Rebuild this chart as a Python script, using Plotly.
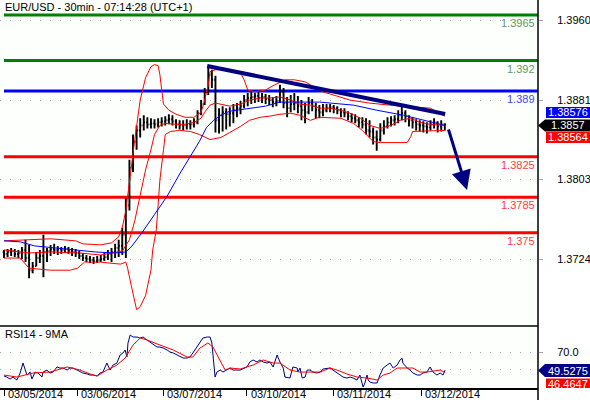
import plotly.graph_objects as go

# ---------------- data ----------------
title_text = "EUR/USD - 30min - 07:14:28 (UTC+1)"
rsi_title = "RSI14 - 9MA"

# hourly OHLC (index 0 = first bar of 03/05/2014)
opens = [
    1.3731, 1.3729, 1.3731, 1.3732, 1.3729, 1.3730, 1.3733, 1.3725, 1.3713, 1.3717,
    1.3725, 1.3727, 1.3731, 1.3732, 1.3734, 1.3733, 1.3734, 1.3733, 1.3734, 1.3732,
    1.3731, 1.3730, 1.3727, 1.3725, 1.3724, 1.3723, 1.3722, 1.3723, 1.3724, 1.3726,
    1.3729, 1.3731, 1.3735, 1.3737, 1.3748, 1.3777, 1.3814, 1.3840, 1.3851, 1.3856,
    1.3859, 1.3857, 1.3858, 1.3857, 1.3859, 1.3860, 1.3861, 1.3862, 1.3860, 1.3857,
    1.3856, 1.3856, 1.3857, 1.3857, 1.3859, 1.3868, 1.3877, 1.3889, 1.3906, 1.3901,
    1.3861, 1.3866, 1.3869, 1.3867, 1.3868, 1.3871, 1.3873, 1.3875, 1.3881, 1.3883,
    1.3884, 1.3885, 1.3883, 1.3884, 1.3882, 1.3881, 1.3879, 1.3880, 1.3889, 1.3878,
    1.3873, 1.3877, 1.3878, 1.3875, 1.3871, 1.3869, 1.3878, 1.3875, 1.3871, 1.3869,
    1.3871, 1.3873, 1.3874, 1.3873, 1.3871, 1.3869, 1.3868, 1.3865, 1.3863, 1.3861,
    1.3859, 1.3857, 1.3851, 1.3850, 1.3844, 1.3842, 1.3851, 1.3855, 1.3859, 1.3861,
    1.3862, 1.3866, 1.3868, 1.3865, 1.3861, 1.3859, 1.3857, 1.3856, 1.3855, 1.3854,
    1.3857, 1.3859, 1.3855, 1.3857]
highs = [
    1.3733, 1.3734, 1.3735, 1.3734, 1.3733, 1.3736, 1.3743, 1.3738, 1.3721, 1.3731,
    1.3733, 1.3748, 1.3735, 1.3738, 1.3739, 1.3737, 1.3736, 1.3737, 1.3736, 1.3735,
    1.3734, 1.3732, 1.3730, 1.3728, 1.3727, 1.3726, 1.3727, 1.3728, 1.3730, 1.3733,
    1.3735, 1.3739, 1.3743, 1.3755, 1.3784, 1.3822, 1.3847, 1.3856, 1.3863, 1.3866,
    1.3864, 1.3863, 1.3862, 1.3863, 1.3864, 1.3865, 1.3867, 1.3866, 1.3862, 1.3861,
    1.3861, 1.3862, 1.3861, 1.3863, 1.3871, 1.3881, 1.3893, 1.3914, 1.3911, 1.3905,
    1.3873, 1.3875, 1.3873, 1.3874, 1.3877, 1.3878, 1.3880, 1.3886, 1.3888, 1.3889,
    1.3888, 1.3889, 1.3888, 1.3887, 1.3886, 1.3884, 1.3885, 1.3896, 1.3893, 1.3884,
    1.3886, 1.3888, 1.3885, 1.3881, 1.3878, 1.3884, 1.3882, 1.3878, 1.3876, 1.3877,
    1.3877, 1.3877, 1.3876, 1.3875, 1.3873, 1.3873, 1.3870, 1.3868, 1.3867, 1.3864,
    1.3864, 1.3863, 1.3861, 1.3854, 1.3851, 1.3858, 1.3861, 1.3864, 1.3865, 1.3866,
    1.3871, 1.3875, 1.3871, 1.3866, 1.3864, 1.3862, 1.3861, 1.3860, 1.3859, 1.3861,
    1.3863, 1.3860, 1.3861, 1.3858]
lows = [
    1.3725, 1.3726, 1.3727, 1.3726, 1.3725, 1.3724, 1.3721, 1.3705, 1.3710, 1.3717,
    1.3720, 1.3706, 1.3721, 1.3727, 1.3729, 1.3728, 1.3729, 1.3730, 1.3729, 1.3727,
    1.3726, 1.3724, 1.3722, 1.3721, 1.3720, 1.3719, 1.3720, 1.3721, 1.3722, 1.3723,
    1.3721, 1.3725, 1.3726, 1.3728, 1.3725, 1.3772, 1.3810, 1.3832, 1.3844, 1.3851,
    1.3853, 1.3853, 1.3853, 1.3854, 1.3855, 1.3856, 1.3857, 1.3856, 1.3853, 1.3852,
    1.3851, 1.3852, 1.3852, 1.3854, 1.3857, 1.3866, 1.3876, 1.3886, 1.3893, 1.3849,
    1.3848, 1.3850, 1.3852, 1.3855, 1.3858, 1.3864, 1.3867, 1.3873, 1.3875, 1.3877,
    1.3878, 1.3879, 1.3878, 1.3877, 1.3876, 1.3874, 1.3875, 1.3878, 1.3873, 1.3864,
    1.3869, 1.3871, 1.3868, 1.3861, 1.3858, 1.3867, 1.3870, 1.3863, 1.3863, 1.3865,
    1.3869, 1.3869, 1.3868, 1.3867, 1.3864, 1.3864, 1.3861, 1.3859, 1.3858, 1.3854,
    1.3853, 1.3847, 1.3844, 1.3837, 1.3831, 1.3840, 1.3847, 1.3853, 1.3855, 1.3856,
    1.3858, 1.3861, 1.3859, 1.3855, 1.3853, 1.3851, 1.3850, 1.3849, 1.3848, 1.3851,
    1.3853, 1.3849, 1.3850, 1.3851]
closes = [
    1.3729, 1.3731, 1.3732, 1.3729, 1.3730, 1.3733, 1.3725, 1.3713, 1.3717, 1.3725,
    1.3727, 1.3731, 1.3732, 1.3734, 1.3733, 1.3734, 1.3733, 1.3734, 1.3732, 1.3731,
    1.3730, 1.3727, 1.3725, 1.3724, 1.3723, 1.3722, 1.3723, 1.3724, 1.3726, 1.3729,
    1.3731, 1.3735, 1.3737, 1.3748, 1.3777, 1.3814, 1.3840, 1.3851, 1.3856, 1.3859,
    1.3857, 1.3858, 1.3857, 1.3859, 1.3860, 1.3861, 1.3862, 1.3860, 1.3857, 1.3856,
    1.3856, 1.3857, 1.3857, 1.3859, 1.3868, 1.3877, 1.3889, 1.3906, 1.3901, 1.3861,
    1.3866, 1.3869, 1.3867, 1.3868, 1.3871, 1.3873, 1.3875, 1.3881, 1.3883, 1.3884,
    1.3885, 1.3883, 1.3884, 1.3882, 1.3881, 1.3879, 1.3880, 1.3889, 1.3878, 1.3873,
    1.3877, 1.3878, 1.3875, 1.3871, 1.3869, 1.3878, 1.3875, 1.3871, 1.3869, 1.3871,
    1.3873, 1.3874, 1.3873, 1.3871, 1.3869, 1.3868, 1.3865, 1.3863, 1.3861, 1.3859,
    1.3857, 1.3851, 1.3850, 1.3844, 1.3842, 1.3851, 1.3855, 1.3859, 1.3861, 1.3862,
    1.3866, 1.3868, 1.3865, 1.3861, 1.3859, 1.3857, 1.3856, 1.3855, 1.3854, 1.3857,
    1.3859, 1.3855, 1.3857, 1.3857]

# Bollinger bands (red) and long moving average (blue)
upper_x = [0, 6, 13, 20, 22, 27, 30, 32, 33, 34, 35, 36.5, 38, 39.5, 41, 42, 43, 43.5, 44, 44.5,
           46, 48, 50.5, 53, 55, 56, 57, 57.5, 59, 62, 64.5, 66, 67, 68, 70, 73, 75.5, 78.5, 81, 84,
           87, 89, 91, 96.5, 102, 107, 110.5, 119, 121.5, 123]
upper_y = [1.3742, 1.3743, 1.3744, 1.3742, 1.3739, 1.3738, 1.3740, 1.3746, 1.3755, 1.3772,
           1.3802, 1.3842, 1.3881, 1.3903, 1.3914, 1.3916, 1.3915, 1.3906, 1.3891, 1.3877,
           1.3871, 1.3867, 1.3864, 1.3864, 1.3869, 1.3881, 1.3896, 1.3909, 1.3911, 1.3911,
           1.3910, 1.3908, 1.3901, 1.3891, 1.3889, 1.3891, 1.3896, 1.3901, 1.3901, 1.3899,
           1.3893, 1.3889, 1.3887, 1.3881, 1.3878, 1.3876, 1.3875, 1.3873, 1.3868, 1.3865]
mid_x = [0, 7, 13, 21, 27, 30.5, 33, 35, 36.5, 38, 39.5, 41, 42, 43.5, 45, 48, 50.5, 53, 55, 56,
         57.5, 59, 60.5, 63, 66, 68.5, 71.5, 74, 77, 80, 82.5, 85.5, 88, 91, 94, 96.5, 99.5, 102,
         105, 108, 110.5, 113.5, 116, 119, 123]
mid_y = [1.3733, 1.3730, 1.3731, 1.3730, 1.3728, 1.3730, 1.3732, 1.3743, 1.3762, 1.3787,
         1.3812, 1.3832, 1.3847, 1.3856, 1.3858, 1.3857, 1.3857, 1.3859, 1.3863, 1.3869,
         1.3876, 1.3878, 1.3877, 1.3875, 1.3877, 1.3881, 1.3883, 1.3883, 1.3884, 1.3881,
         1.3877, 1.3876, 1.3873, 1.3873, 1.3871, 1.3868, 1.3863, 1.3856, 1.3853, 1.3856,
         1.3861, 1.3863, 1.3859, 1.3857, 1.3856]
lower_x = [0, 4.5, 7, 13, 18.5, 20.5, 22.5, 27, 29.5, 32.5, 34, 34.5, 35.5, 36.5, 37, 38, 39.5,
           41, 41.5, 42.5, 43, 43.5, 44.5, 45, 46.5, 49, 52, 54.5, 57.5, 60.5, 63, 66, 68.5, 71.5,
           74, 77, 80, 82.5, 85.5, 88, 94, 97.5, 100, 103, 105, 112.5, 113.5, 114, 123]
lower_y = [1.3725, 1.3725, 1.3715, 1.3713, 1.3713, 1.3715, 1.3721, 1.3721, 1.3720, 1.3719,
           1.3721, 1.3715, 1.3698, 1.3683, 1.3674, 1.3677, 1.3688, 1.3713, 1.3733, 1.3753,
           1.3777, 1.3802, 1.3832, 1.3847, 1.3850, 1.3851, 1.3850, 1.3847, 1.3842, 1.3844,
           1.3849, 1.3855, 1.3861, 1.3864, 1.3865, 1.3867, 1.3868, 1.3866, 1.3861, 1.3864,
           1.3863, 1.3858, 1.3851, 1.3840, 1.3839, 1.3839, 1.3845, 1.3850, 1.3851]
ma_x = [0, 4.5, 8.5, 14, 20, 25.5, 31, 34, 35.5, 38.5, 42, 45.5, 49, 52, 54.5, 56.5, 58.5, 60.5,
        63, 67, 73, 77, 81, 88, 97.5, 104, 111.5, 119, 123]
ma_y = [1.3742, 1.3741, 1.3737, 1.3735, 1.3733, 1.3731, 1.3730, 1.3731, 1.3736, 1.3750,
        1.3768, 1.3786, 1.3808, 1.3825, 1.3840, 1.3854, 1.3861, 1.3866, 1.3870, 1.3872,
        1.3875, 1.3879, 1.3879, 1.3879, 1.3876, 1.3871, 1.3866, 1.3859, 1.3856]

# RSI14 and its 9-period MA
rsi_x = [0, 0.8, 1.7, 2.5, 3.6, 4.5, 5.3, 6.4, 7.3, 7.8,
         8.7, 9.5, 10.6, 10.9, 12.0, 12.8, 13.7, 14.8, 15.6, 16.5,
         17.6, 18.4, 19.3, 20.4, 21.2, 22.0, 23.2, 24.0, 24.8, 26.0,
         26.8, 27.6, 28.7, 29.6, 30.4, 31.5, 32.4, 33.2, 33.8, 34.3,
         34.6, 35.2, 36.0, 37.1, 37.9, 38.8, 39.9, 40.7, 41.6, 42.7,
         43.5, 44.4, 45.5, 46.3, 47.2, 48.3, 49.1, 50.0, 51.1, 51.9,
         52.7, 53.9, 54.7, 55.5, 56.7, 57.5, 58.0, 58.3, 58.9, 59.4,
         60.3, 61.1, 62.2, 63.1, 63.9, 65.0, 65.9, 67.8, 68.6, 69.5,
         70.6, 71.4, 72.3, 73.4, 74.2, 75.1, 76.2, 77.0, 77.9, 78.4,
         79.8, 80.6, 81.8, 82.0, 82.6, 83.2, 84.0, 84.6, 85.4, 86.2,
         87.3, 88.2, 89.0, 91.0, 92.9, 93.8, 94.6, 95.7, 96.6, 97.4,
         98.5, 99.3, 99.9, 100.2, 100.7, 101.3, 101.6, 102.1, 103.0, 104.1,
         104.9, 105.8, 106.9, 107.7, 108.6, 109.7, 110.5, 111.1, 111.3, 112.5,
         113.3, 114.1, 115.3, 116.1, 116.9, 118.0, 118.9, 119.7, 120.8, 121.7,
         122.5, 123.1]
rsi_y = [42.6, 41.4, 39.1, 41.4, 38.0, 46.0, 57.4, 43.7, 47.1, 39.1,
         47.1, 46.0, 41.4, 47.1, 49.4, 46.0, 47.1, 52.9, 51.7, 51.7,
         49.4, 51.7, 51.7, 49.4, 47.1, 46.0, 44.9, 43.7, 43.7, 42.6,
         46.0, 47.1, 57.4, 49.4, 55.1, 57.4, 66.6, 68.9, 72.3, 64.3,
         80.3, 89.4, 87.1, 87.1, 86.0, 87.1, 83.7, 81.4, 78.0, 75.7,
         75.7, 74.6, 72.3, 70.0, 68.9, 66.6, 64.3, 63.1, 63.1, 64.3,
         68.9, 75.7, 81.4, 86.0, 87.1, 87.1, 80.3, 64.3, 41.4, 47.1,
         49.4, 47.1, 49.4, 51.7, 49.4, 49.4, 49.4, 52.9, 58.6, 60.9,
         58.6, 60.9, 58.6, 57.4, 58.6, 52.9, 66.6, 58.6, 51.7, 41.4,
         40.3, 52.9, 51.7, 47.1, 51.7, 40.3, 41.4, 49.4, 49.4, 47.1,
         46.0, 47.1, 50.6, 51.7, 46.0, 43.7, 41.4, 40.3, 41.4, 40.3,
         38.0, 43.7, 35.7, 30.0, 34.6, 43.7, 38.0, 35.7, 34.6, 34.6,
         43.7, 51.7, 55.1, 57.4, 51.7, 55.1, 60.9, 62.8, 57.4, 51.7,
         49.4, 46.0, 43.7, 43.7, 46.0, 47.1, 52.9, 47.1, 43.7, 46.0,
         43.7, 49.5]
rsima_x = [0, 3.6, 8.1, 12.8, 17.6, 21.2, 24.0, 26.0, 28.7, 31.5,
           33.8, 36.0, 38.0, 39.9, 43.5, 47.2, 51.1, 52.7, 54.7, 56.9,
           58.3, 60.3, 61.7, 63.1, 65.9, 69.5, 72.3, 75.1, 77.0, 79.8,
           82.6, 85.4, 88.2, 91.0, 92.9, 95.7, 98.5, 101.3, 104.1, 105.8,
           107.7, 109.7, 111.3, 114.1, 116.1, 118.0, 121.7, 123.1]
rsima_y = [43.7, 41.4, 46.0, 47.1, 52.9, 49.4, 44.9, 42.6, 49.4, 55.1,
           63.1, 78.0, 86.0, 83.7, 78.0, 72.3, 64.3, 64.3, 74.6, 80.3,
           75.7, 60.9, 49.4, 51.7, 50.6, 55.1, 60.9, 57.4, 57.4, 49.4,
           47.1, 47.1, 47.1, 51.7, 49.4, 44.9, 41.4, 40.3, 38.0, 43.7,
           46.0, 51.7, 51.7, 51.7, 47.1, 47.1, 49.4, 46.5]

# drawn objects (in data units)
trend_x = [56.7, 123.1]
trend_y = [1.39146, 1.38672]
arrow_tail = (123.9, 1.38534)
arrow_tip = (129.2, 1.37922)

levels = [1.3965, 1.392, 1.389, 1.3825, 1.3785, 1.375]
level_labels = ["1.3965", "1.392", "1.389", "1.3825", "1.3785", "1.375"]

price_ticks = [1.3724, 1.3803, 1.3881, 1.3960]
price_tick_labels = ["1.3724", "1.3803", "1.3881", "1.3960"]
rsi_ticks = [50, 70]
rsi_tick_labels = ["", "70.0"]

date_ticks = [0, 20.5, 44.5, 67.8, 91.8, 116.4]
date_labels = ["03/05/2014", "03/06/2014", "03/07/2014", "03/10/2014", "03/11/2014", "03/12/2014"]

tag_texts = ["1.38576", "1.3857", "1.38564", "49.5275", "46.4647"]

# ---------------- styling / layout ----------------
FONT = "Liberation Sans, Arial, sans-serif"
FS = 11
PLOT_W, PLOT_H = 538, 388
RED = "#ff0000"
BLUE = "#0000ff"
NAVY = "#000080"
GREEN = "#008000"
level_colors = [GREEN, GREEN, BLUE, RED, RED, RED]
level_text_colors = ["#5d9a5d", "#5d9a5d", "#4646ff", "#ff3c3c", "#ff3c3c", "#ff3c3c"]


def pxx(px):
    return px / PLOT_W


def pxy(py):
    return (PLOT_H - py) / PLOT_H


fig = go.Figure()

for xs, ys, col in [(upper_x, upper_y, RED), (mid_x, mid_y, RED), (lower_x, lower_y, RED),
                    (ma_x, ma_y, BLUE)]:
    fig.add_trace(go.Scatter(x=xs, y=ys, mode="lines", line=dict(color=col, width=1),
                             xaxis="x", yaxis="y", hoverinfo="skip"))

fig.add_trace(go.Ohlc(
    x=list(range(len(closes))), open=opens, high=highs, low=lows, close=closes,
    increasing=dict(line=dict(color="black", width=1.9)),
    decreasing=dict(line=dict(color="black", width=1.9)),
    tickwidth=0.35, xaxis="x", yaxis="y", hoverinfo="skip"))

fig.add_trace(go.Scatter(x=trend_x, y=trend_y, mode="lines",
                         line=dict(color=NAVY, width=4), xaxis="x", yaxis="y", hoverinfo="skip"))

fig.add_trace(go.Scatter(x=rsi_x, y=rsi_y, mode="lines", line=dict(color=NAVY, width=1),
                         xaxis="x", yaxis="y2", hoverinfo="skip"))
fig.add_trace(go.Scatter(x=rsima_x, y=rsima_y, mode="lines", line=dict(color=RED, width=1),
                         xaxis="x", yaxis="y2", hoverinfo="skip"))

shapes = []
annotations = []

# level lines and labels
for lv, lab, lc, tc in zip(levels, level_labels, level_colors, level_text_colors):
    shapes.append(dict(type="line", xref="paper", yref="y", x0=pxx(4), x1=1, y0=lv, y1=lv,
                       line=dict(color=lc, width=3), layer="below"))
    annotations.append(dict(text=lab, xref="paper", yref="y", x=pxx(537), y=lv,
                            xanchor="right", yanchor="top", yshift=0, showarrow=False,
                            font=dict(family=FONT, size=FS, color=tc)))

# frame lines
shapes.append(dict(type="line", xref="paper", yref="paper", x0=0, x1=1,
                   y0=pxy(326), y1=pxy(326), line=dict(color="black", width=1.5)))
shapes.append(dict(type="line", xref="paper", yref="paper", x0=1, x1=1,
                   y0=pxy(400), y1=pxy(0), line=dict(color="black", width=1.5)))

# value tags on the right
def box(x0, x1, y0, y1, color):
    shapes.append(dict(type="rect", xref="paper", yref="paper", x0=pxx(x0), x1=pxx(x1),
                       y0=pxy(y1), y1=pxy(y0), fillcolor=color, line=dict(width=0)))


def arrow_tag(tip_x, box_x0, box_x1, y0, y1, color):
    ym = (y0 + y1) / 2
    path = "M {} {} L {} {} L {} {} L {} {} L {} {} Z".format(
        pxx(tip_x), pxy(ym), pxx(box_x0), pxy(y0), pxx(box_x1), pxy(y0),
        pxx(box_x1), pxy(y1), pxx(box_x0), pxy(y1))
    shapes.append(dict(type="path", xref="paper", yref="paper", path=path,
                       fillcolor=color, line=dict(width=0)))


box(546, 592, 107, 118, BLUE)
arrow_tag(538, 545, 592, 119.5, 131.5, "black")
box(546, 592, 132, 143, RED)
arrow_tag(538, 545, 592, 364, 377, NAVY)
box(546, 592, 378.5, 388, RED)

tag_pos = [(568, 112.5), (568, 125.5), (568, 137.5), (568, 370.5), (568, 383.5)]
for t, (cx, cy) in zip(tag_texts, tag_pos):
    annotations.append(dict(text=t, xref="paper", yref="paper", x=pxx(cx), y=pxy(cy),
                            xanchor="center", yanchor="middle", showarrow=False,
                            font=dict(family=FONT, size=FS, color="white")))

# titles
annotations.append(dict(text=title_text, xref="paper", yref="paper", x=pxx(3), y=pxy(7),
                        xanchor="left", yanchor="middle", showarrow=False,
                        font=dict(family=FONT, size=FS, color="black")))
annotations.append(dict(text=rsi_title, xref="paper", yref="paper", x=pxx(3), y=pxy(334),
                        xanchor="left", yanchor="middle", showarrow=False,
                        font=dict(family=FONT, size=FS, color="black")))

# date labels
for xv, lab in zip(date_ticks, date_labels):
    annotations.append(dict(text=lab, xref="x", yref="paper", x=xv, y=pxy(394),
                            xanchor="left", yanchor="middle", xshift=2, showarrow=False,
                            font=dict(family=FONT, size=FS, color="black")))

# forecast arrow
annotations.append(dict(x=arrow_tip[0], y=arrow_tip[1], ax=arrow_tail[0], ay=arrow_tail[1],
                        xref="x", yref="y", axref="x", ayref="y", text="", showarrow=True,
                        arrowhead=2, arrowsize=1.3, arrowwidth=3, arrowcolor=NAVY))

fig.update_layout(
    width=590, height=400, autosize=False,
    margin=dict(l=0, r=52, t=0, b=12, pad=0),
    paper_bgcolor="white", plot_bgcolor="#fcfffc",
    showlegend=False,
    font=dict(family=FONT, size=FS, color="black"),
    xaxis=dict(range=[-1.116, 149.0], anchor="y2", showgrid=False, zeroline=False,
               showline=True, linecolor="black", linewidth=1.5,
               ticks="outside", ticklen=6, tickcolor="black", tickwidth=1,
               tickvals=date_ticks, showticklabels=False,
               rangeslider=dict(visible=False), fixedrange=True),
    yaxis=dict(domain=[pxy(326), 1], range=[1.36579, 1.39798], side="right",
               tickvals=price_ticks, ticktext=price_tick_labels,
               showgrid=True, gridcolor="#a8a8a8", griddash="1px,9px", gridwidth=1,
               ticks="outside", ticklen=4, tickcolor="#a8a8a8", ticklabelstandoff=12,
               zeroline=False, showline=False, tickfont=dict(size=FS, color="black")),
    yaxis2=dict(domain=[0, pxy(326)], range=[28.9, 99.7], side="right",
                tickvals=rsi_ticks, ticktext=rsi_tick_labels,
                showgrid=True, gridcolor="#a8a8a8", griddash="1px,9px", gridwidth=1,
                ticks="outside", ticklen=4, tickcolor="#a8a8a8", ticklabelstandoff=12,
                zeroline=False, showline=False, tickfont=dict(size=FS, color="black")),
    shapes=shapes,
    annotations=annotations,
)

fig.write_html("out.html", config={"displayModeBar": False},
               post_script="document.body.style.margin='0px';document.body.style.overflow='hidden';")
